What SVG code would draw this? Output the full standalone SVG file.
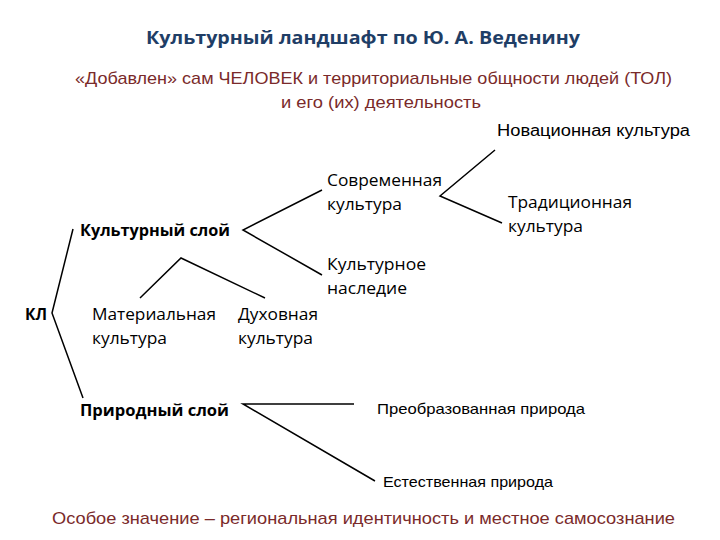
<svg xmlns="http://www.w3.org/2000/svg" width="720" height="540" viewBox="0 0 720 540">
<style>
text{font-family:"Open Sans","Liberation Sans",sans-serif;fill:#000;font-size:16px}
.t{font-weight:bold;fill:#1F3E66;font-size:17px}
.r{fill:#7A2A2A;font-family:"Liberation Sans",sans-serif;font-size:17px}
.b{font-weight:bold}
.n{font-family:"Liberation Sans",sans-serif;font-size:16px}
.s{font-family:"Liberation Sans",sans-serif;font-size:15px}
.c{stroke:#000;stroke-width:1.5;fill:none}
</style>
<rect width="720" height="540" fill="#fff"/>
<g id="title"><text class="t" x="146" y="44" textLength="434" lengthAdjust="spacingAndGlyphs">Культурный ландшафт по Ю. А. Веденину</text></g>
<g id="subtitle">
<text class="r" x="75" y="84" textLength="597" lengthAdjust="spacingAndGlyphs">«Добавлен» сам ЧЕЛОВЕК и территориальные общности людей (ТОЛ)</text>
<text class="r" x="281" y="108" textLength="200" lengthAdjust="spacingAndGlyphs">и его (их) деятельность</text>
</g>
<g id="connectors" class="c">
<polyline points="73,229 52,313 83,398"/>
<polyline points="322,190 243,230 322,275"/>
<polyline points="140,298 181,258 265,298"/>
<polyline points="495,150 440,196 502,223"/>
<polyline points="354,404 243,404 375,481"/>
</g>
<g id="kl"><text class="b" x="25" y="320" textLength="22" lengthAdjust="spacingAndGlyphs">КЛ</text></g>
<g id="cultural-layer"><text class="b" x="80" y="236" textLength="150" lengthAdjust="spacingAndGlyphs">Культурный слой</text></g>
<g id="natural-layer"><text class="b" x="80" y="416" textLength="149" lengthAdjust="spacingAndGlyphs">Природный слой</text></g>
<g id="modern"><text x="327" y="186" textLength="115" lengthAdjust="spacingAndGlyphs">Современная</text><text x="327" y="210" textLength="75" lengthAdjust="spacingAndGlyphs">культура</text></g>
<g id="heritage"><text x="327" y="270" textLength="99" lengthAdjust="spacingAndGlyphs">Культурное</text><text x="327" y="294" textLength="80" lengthAdjust="spacingAndGlyphs">наследие</text></g>
<g id="novation"><text class="n" x="497" y="136" textLength="193" lengthAdjust="spacingAndGlyphs">Новационная культура</text></g>
<g id="traditional"><text x="508" y="208" textLength="124" lengthAdjust="spacingAndGlyphs">Традиционная</text><text x="508" y="232" textLength="75" lengthAdjust="spacingAndGlyphs">культура</text></g>
<g id="material"><text x="92" y="320" textLength="124" lengthAdjust="spacingAndGlyphs">Материальная</text><text x="92" y="344" textLength="75" lengthAdjust="spacingAndGlyphs">культура</text></g>
<g id="spiritual"><text x="238" y="320" textLength="80" lengthAdjust="spacingAndGlyphs">Духовная</text><text x="238" y="344" textLength="75" lengthAdjust="spacingAndGlyphs">культура</text></g>
<g id="transformed"><text class="s" x="377" y="414" textLength="208" lengthAdjust="spacingAndGlyphs">Преобразованная природа</text></g>
<g id="natural"><text class="s" x="383" y="487" textLength="170" lengthAdjust="spacingAndGlyphs">Естественная природа</text></g>
<g id="footer"><text class="r" x="52" y="524" textLength="623" lengthAdjust="spacingAndGlyphs">Особое значение – региональная идентичность и местное самосознание</text></g>
</svg>
